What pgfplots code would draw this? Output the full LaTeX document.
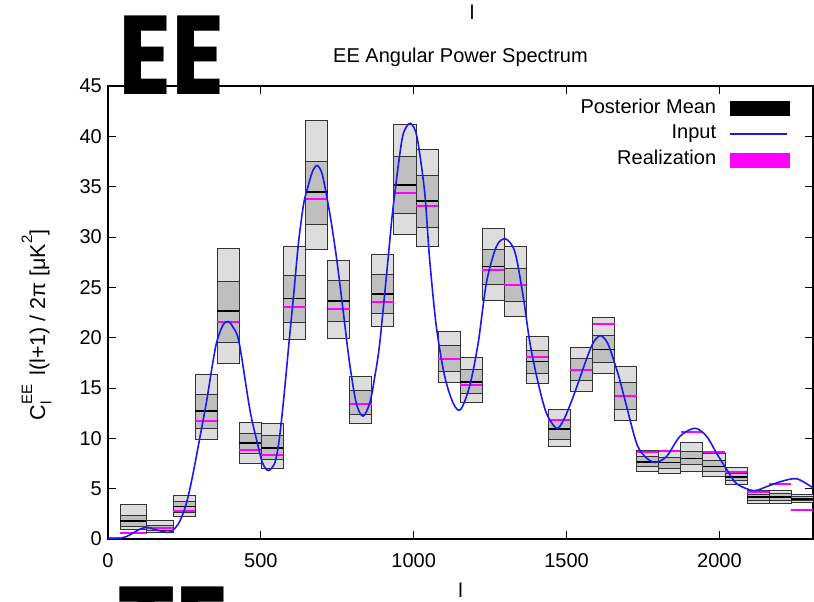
\documentclass[border=0pt]{standalone}
\usepackage{fontspec}
\setmainfont{Liberation Sans}
\newfontfamily\bigfont{Poppins}
\usepackage{pgfplots}
\pgfplotsset{compat=1.18}
\definecolor{lightbox}{HTML}{DDDDDD}
\definecolor{darkbox}{HTML}{BFBFBF}
\definecolor{inputblue}{HTML}{1A1AF0}
\definecolor{mag}{rgb}{1,0,1}
\newcommand{\bin}[8]{%
  \addplot[forget plot, draw=black!80, line width=0.8pt, fill=lightbox] coordinates {(#1,#3) (#2,#3) (#2,#4) (#1,#4)} -- cycle;
  \addplot[forget plot, draw=black!80, line width=0.8pt, fill=darkbox] coordinates {(#1,#5) (#2,#5) (#2,#6) (#1,#6)} -- cycle;
  \addplot[forget plot, black, line width=1.8pt] coordinates {(#1,#7) (#2,#7)};
  \addplot[forget plot, mag, line width=2pt] coordinates {(#1,#8) (#2,#8)};
}
\begin{document}
\begin{tikzpicture}[x=1pt,y=1pt]
\begin{axis}[
  at={(108pt,63pt)}, anchor=south west,
  scale only axis, width=705pt, height=453pt,
  xmin=0, xmax=2306, ymin=0, ymax=45,
  xtick={0,500,1000,1500,2000}, ytick={0,5,...,45},
  tick align=inside, major tick length=8pt,
  axis line style={line width=1.2pt},
  every tick/.style={black, line width=0.9pt},
  font=\fontsize{20}{24}\selectfont,
  /pgf/number format/assume math mode=true,
  /pgf/number format/1000 sep={},
  xticklabel style={anchor=base, yshift=-29pt, inner sep=0pt},
  yticklabel style={anchor=east, xshift=-6pt, inner sep=0pt},
  title={EE Angular Power Spectrum},
  title style={at={(0.5,1)}, anchor=base, yshift=17pt, inner sep=0pt},
  xlabel={l},
  xlabel style={at={(0.5,0)}, anchor=base, yshift=-59pt, inner sep=0pt},
  legend plot pos=right,
  legend cell align=right,
  legend style={draw=none, fill=none, at={(1,1)}, anchor=north east,
    xshift=-24pt, yshift=-12pt, inner sep=0pt, outer sep=0pt,
    row sep=6pt, nodes={inner sep=0pt, text height=15pt, text depth=5pt},
    /tikz/every odd column/.style={column sep=13pt}},
]
\addlegendimage{legend image code/.code={\fill[black] (0pt,-7pt) rectangle (59pt,7pt);}}
\addlegendentry{Posterior Mean}
% bins: x0 x1 outer-lo outer-hi inner-lo inner-hi mean realization
\bin{40}{127}{1.0}{3.45}{1.23}{2.39}{1.79}{0.57}
\bin{127}{213}{0.63}{1.82}{0.85}{1.35}{1.09}{1.1}
\bin{213}{285.2}{2.29}{4.38}{2.6}{3.72}{3.22}{2.76}
\bin{285.2}{357.4}{9.89}{16.4}{11.03}{14.34}{12.72}{11.68}
\bin{357.4}{429.6}{17.43}{28.85}{19.52}{25.63}{22.61}{21.54}
\bin{429.6}{501.8}{7.54}{11.62}{8.54}{10.53}{9.53}{8.83}
\bin{501.8}{574}{7.04}{11.52}{7.87}{10.29}{9.03}{8.37}
\bin{574}{646.2}{19.79}{29.08}{21.54}{26.2}{23.9}{23.08}
\bin{646.2}{718.4}{28.78}{41.63}{31.27}{37.48}{34.49}{33.76}
\bin{718.4}{790.6}{19.92}{27.72}{21.58}{25.73}{23.64}{22.84}
\bin{790.6}{862.8}{11.52}{16.17}{12.42}{14.77}{13.42}{13.42}
\bin{862.8}{935}{21.14}{28.26}{22.44}{26.29}{24.37}{23.5}
\bin{935}{1007.2}{30.28}{41.2}{32.34}{37.98}{35.16}{34.36}
\bin{1007.2}{1079.4}{29.11}{38.68}{31.0}{36.09}{33.6}{33.04}
\bin{1079.4}{1151.6}{15.6}{20.65}{16.66}{19.22}{17.93}{17.93}
\bin{1151.6}{1223.8}{13.58}{18.03}{14.47}{16.8}{15.6}{15.27}
\bin{1223.8}{1296}{23.67}{30.88}{25.27}{28.78}{27.06}{26.76}
\bin{1296}{1368.2}{22.08}{29.05}{23.58}{26.92}{25.23}{25.23}
\bin{1368.2}{1440.4}{15.44}{20.12}{16.43}{18.76}{17.63}{18.1}
\bin{1440.4}{1512.6}{9.16}{12.92}{9.93}{11.85}{10.93}{11.85}
\bin{1512.6}{1584.8}{14.67}{19.05}{15.8}{17.93}{16.8}{16.8}
\bin{1584.8}{1657}{16.43}{21.98}{17.5}{20.25}{18.82}{21.38}
\bin{1657}{1729.2}{11.82}{17.13}{12.92}{15.6}{14.21}{14.21}
\bin{1729.2}{1801.4}{6.7}{8.8}{7.17}{8.2}{7.67}{8.67}
\bin{1801.4}{1873.6}{6.47}{8.73}{6.97}{8.14}{7.6}{8.73}
\bin{1873.6}{1945.8}{6.74}{9.56}{7.37}{8.7}{8.0}{10.66}
\bin{1945.8}{2018}{6.18}{8.54}{6.7}{7.77}{7.2}{8.6}
\bin{2018}{2090.2}{5.45}{7.1}{5.8}{6.47}{6.18}{6.64}
\bin{2090.2}{2162.4}{3.52}{4.78}{3.88}{4.45}{4.15}{4.65}
\bin{2162.4}{2234.6}{3.49}{4.85}{3.88}{4.48}{4.18}{5.5}
\bin{2234.6}{2306.8}{3.65}{4.45}{3.81}{4.21}{3.98}{2.86}
\addplot[forget plot, mag, line width=2pt] coordinates {(2,0.05) (40,0.05)};
% input spectrum
\addplot[inputblue, line width=1.6pt, smooth, tension=0.5,
  legend image code/.code={\draw[inputblue, line width=1.3pt] (0pt,0pt) -- (57pt,0pt);}] coordinates {
(0,0) (30,0.05) (60,0.23) (104,0.97) (130,1.15) (159,0.9) (202,0.67) (230,1.5)
(251,3.0) (268,5.0) (284,7.4) (300,10.0) (322,13.6) (340,17.0) (355,19.5) (375,21.2) (393,21.6)
(410,21.0) (429,19.5) (464,12.85) (486,9.86) (505,7.6) (524,6.8) (546,7.6) (560,9.86)
(575,14) (593,19.8) (608,24.5) (623,29.4) (640,33.3) (655,35.1) (670,36.6) (685,37.1)
(700,36.3) (715,34.1) (730,31.5) (748,27.8) (769,22.7) (790,17.5) (812,13.5) (834,12.2)
(856,13.5) (872,16) (889,19.5) (916,27.8) (932,32.8) (960,39.4) (975,40.9) (989,41.3)
(1002,40.8) (1014,39.4) (1036,34.4) (1052,27.8) (1074,21.1) (1101,16.2) (1129,13.5)
(1153,12.85) (1183,15.2) (1211,19.5) (1238,25.5) (1271,29.1) (1301,29.8) (1331,28.5)
(1358,24.1) (1380,19.5) (1407,15.5) (1434,12.5) (1467,11.0) (1490,11.8) (1515,13.6)
(1539,15.6) (1563,17.7) (1587,19.5) (1611,20.2) (1635,19.4) (1660,17.2) (1674,15.8) (1696,13.2) (1729,9.5)
(1756,8.2) (1789,7.6) (1827,8.2) (1871,10.2) (1920,11.0) (1958,10.2) (1991,8.5)
(2024,6.9) (2056,5.5) (2111,4.8) (2154,5.2) (2200,5.7) (2253,5.98) (2307,5.05)
};
\addlegendentry{Input}
\addlegendimage{legend image code/.code={\fill[mag] (0pt,-7pt) rectangle (59pt,7pt);}}
\addlegendentry{Realization}
\end{axis}
\node[rotate=90, anchor=base, inner sep=0pt, font=\fontsize{21.5}{24}\selectfont] at (45,277)
  {C\makebox[0pt][l]{\raisebox{-0.3em}{\fontsize{15}{15}\selectfont l}}\raisebox{0.6em}{\fontsize{15}{15}\selectfont EE}\hspace{0.15em} l(l+1) / 2π [μK\raisebox{0.6em}{\fontsize{15}{15}\selectfont 2}]};
\node[anchor=base west, inner sep=0pt, xscale=0.88, font=\bigfont\bfseries\fontsize{112}{112}\selectfont] at (118,507) {EE};
\node[anchor=base west, inner sep=0pt, xscale=0.88, font=\bigfont\bfseries\fontsize{112}{112}\selectfont] at (117,-64) {TE};
\node[anchor=base, inner sep=0pt, font=\fontsize{20}{24}\selectfont] at (472,582) {l};
\pgfresetboundingbox
\useasboundingbox (0,0) rectangle (814,602);
\end{tikzpicture}
\end{document}
